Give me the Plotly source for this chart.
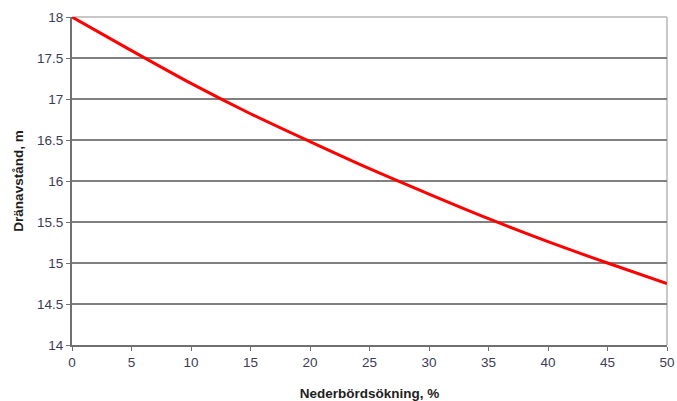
import plotly.graph_objects as go

nederbord = [0, 5, 10, 15, 20, 25, 30, 35, 40, 45, 50]
dranavstand = [18.0, 17.59, 17.19, 16.82, 16.48, 16.15, 15.84, 15.54, 15.26, 15.0, 14.75]

x_ticks = [0, 5, 10, 15, 20, 25, 30, 35, 40, 45, 50]
y_ticks = [14, 14.5, 15, 15.5, 16, 16.5, 17, 17.5, 18]
y_labels = ["14", "14.5", "15", "15.5", "16", "16.5", "17", "17.5", "18"]

fam = "Liberation Sans, Arial, sans-serif"
font_tick = dict(family=fam, size=13.5, color="#3c3c58")
font_title = dict(family=fam, size=13.5, color="#1e1e1e")
fig = go.Figure()
fig.add_trace(go.Scatter(x=nederbord, y=dranavstand, mode="lines",
                         line=dict(color="#ff0000", width=3, shape="spline", smoothing=0.8),
                         showlegend=False, hoverinfo="skip"))

fig.update_layout(
    width=677, height=401,
    margin=dict(l=72, r=10, t=17, b=56),
    paper_bgcolor="white", plot_bgcolor="white",
    xaxis=dict(range=[0, 50], tickvals=x_ticks, ticktext=[str(v) for v in x_ticks],
               showgrid=False, showline=True, linecolor="#707070", linewidth=2,
               ticks="outside", ticklen=4, tickcolor="#707070", tickwidth=1,
               tickfont=font_tick, zeroline=False, automargin=False,
               title=dict(text="<b>Nederbördsökning, %</b>", font=font_title, standoff=20)),
    yaxis=dict(range=[14, 18], tickvals=y_ticks, ticktext=y_labels,
               showgrid=True, gridcolor="#808080", gridwidth=2,
               showline=True, linecolor="#707070", linewidth=2,
               ticks="outside", ticklen=4, tickcolor="#707070", tickwidth=1,
               tickfont=font_tick, zeroline=False, automargin=False,
               title=dict(text="<b>Dränavstånd, m</b>", font=font_title, standoff=10)),
)
fig.add_shape(type="line", xref="paper", yref="paper", x0=0, x1=1, y0=1, y1=1,
              line=dict(color="#c8c8c8", width=2), layer="below")
fig.add_shape(type="line", xref="paper", yref="paper", x0=1, x1=1, y0=0, y1=1,
              line=dict(color="#c8c8c8", width=2), layer="below")

# remove the default 8px page margin so the figure fills the window exactly
fig.write_html("out.html", config={"displayModeBar": False},
               post_script="document.body.style.margin='0';")
